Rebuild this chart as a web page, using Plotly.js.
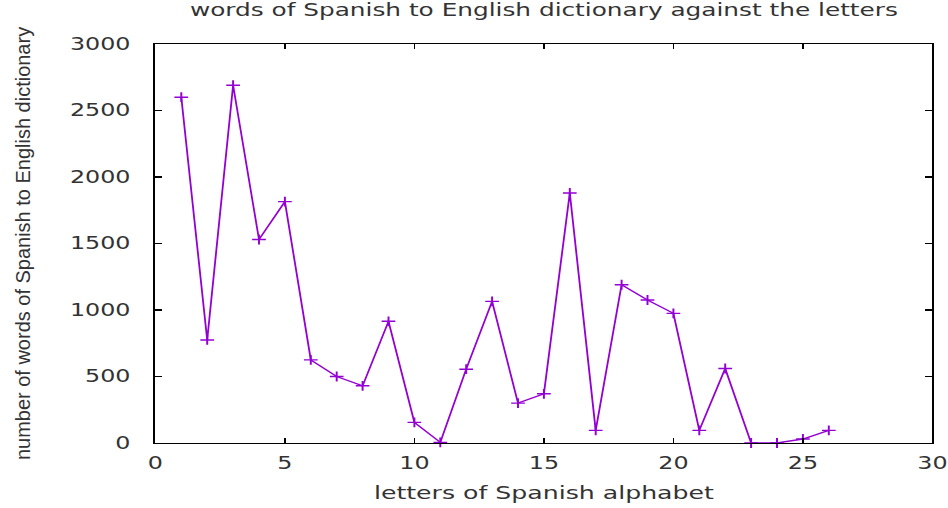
<!DOCTYPE html>
<html><head><meta charset="utf-8">
<script src="https://cdn.plot.ly/plotly-3.0.1.min.js"></script>
<style>
html,body{margin:0;padding:0;background:#fff;overflow:hidden;}
#wrap{width:948px;height:508px;overflow:hidden;position:relative;background:#fff;}
#chart{width:677px;height:508px;transform:scaleX(1.4);transform-origin:0 0;}
</style></head><body>
<div id="wrap"><div id="chart"></div></div>
<script>
// Data
const letterIndex = [1,2,3,4,5,6,7,8,9,10,11,12,13,14,15,16,17,18,19,20,21,22,23,24,25,26];
const wordCounts  = [2600,775,2690,1530,1815,625,500,430,915,155,5,555,1065,300,370,1880,95,1190,1075,975,95,560,0,0,30,95];
const xTickVals = [0,5,10,15,20,25,30];
const yTickVals = [0,500,1000,1500,2000,2500,3000];
const chartTitle = 'words of Spanish to English dictionary against the letters';
const xTitle = 'letters of Spanish alphabet';
const yTitle = 'number of words of Spanish to English dictionary';

const STRETCH = 1.4;
const purple = '#9400D3';
const txt = '#333';
const dv = 'DejaVu Sans, Verdana, sans-serif';

const trace = {
  x: letterIndex, y: wordCounts, type: 'scatter', mode: 'lines+markers',
  line: {color: purple, width: 1.3},
  marker: {symbol: 'cross-thin', size: 7, color: purple, line: {color: purple, width: 1.4}},
  cliponaxis: false, hoverinfo: 'skip'
};

const axisCommon = {
  showgrid: false, zeroline: false, showline: true, linecolor: '#000', linewidth: 1.4,
  mirror: 'ticks', ticks: 'inside', ticklen: 5, tickwidth: 1.2, tickcolor: '#000',
  ticklabeloverflow: 'allow',
  tickfont: {family: dv, size: 17, color: txt}
};

const layout = {
  width: 677, height: 508,
  margin: {l: 111.1, r: 10.6, t: 43.5, b: 65.3, pad: 0},
  paper_bgcolor: '#fff', plot_bgcolor: '#fff', showlegend: false,
  title: {text: chartTitle, font: {family: dv, size: 17.7, color: txt},
          x: 0.5, xref: 'paper', y: 1 - 9.5/508, yref: 'container', yanchor: 'middle'},
  xaxis: Object.assign({}, axisCommon, {
    range: [0, 30], tickmode: 'array', tickvals: xTickVals, ticklabelstandoff: 4,
    title: {text: xTitle, font: {family: dv, size: 18, color: txt}, standoff: 14}
  }),
  yaxis: Object.assign({}, axisCommon, {
    range: [0, 3000], tickmode: 'array', tickvals: yTickVals, ticklabelstandoff: 13,
    title: {text: yTitle, font: {family: 'Liberation Sans, Arial, sans-serif', size: 20, color: txt}, standoff: 22}
  })
};

Plotly.newPlot('chart', [trace], layout, {displayModeBar: false, staticPlot: true}).then(function(gd){
  // undo the horizontal stretch for the rotated y title (pure SVG transform)
  const t = gd.querySelector('.ytitle');
  if (t) {
    const x = parseFloat(t.getAttribute('x')), y = parseFloat(t.getAttribute('y'));
    t.setAttribute('transform',
      'translate(' + x + ',' + y + ') scale(' + (1/STRETCH) + ',1) rotate(-90) translate(' + (-x) + ',' + (-y) + ')');
  }
});
</script>
</body></html>
